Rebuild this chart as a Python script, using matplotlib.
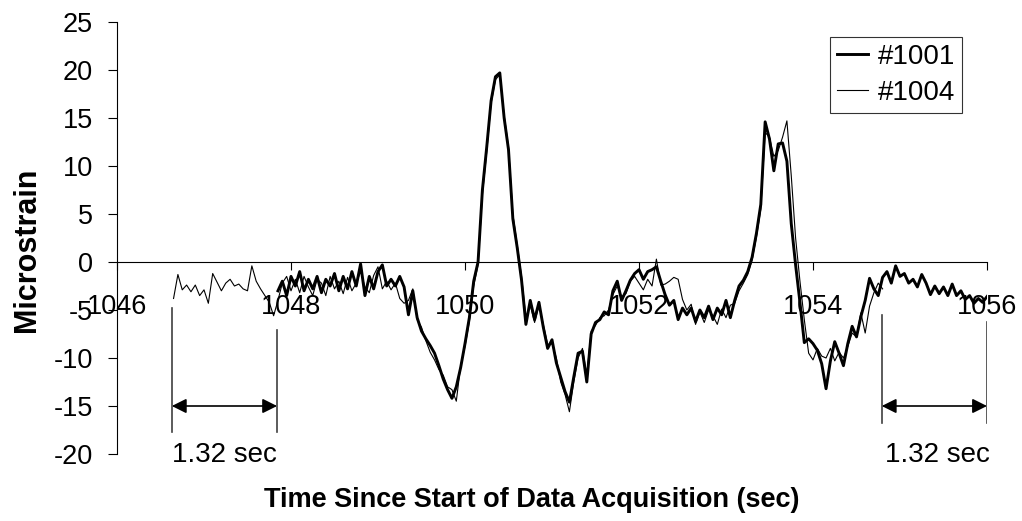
import numpy as np
import matplotlib
matplotlib.use("Agg")
import matplotlib.pyplot as plt

plt.rcParams['font.family'] = ['Liberation Sans', 'DejaVu Sans']
plt.rcParams['axes.unicode_minus'] = False

# sample spacing 0.05 s, start times
dt = 0.05
start_1001 = 1047.85
start_1004 = 1046.65

s1001 = [
    -3.0, -2.0, -3.5, -1.5, -2.5, -1.0, -3.0, -1.8, -2.8, -1.5,
    -3.2, -1.8, -2.5, -1.2, -3.0, -1.5, -2.8, -1.0, -2.5, -0.2,
    -3.5, -1.5, -2.8, -1.0, -0.3, -2.5, -1.8, -2.5, -1.5, -2.6,
    -5.5, -3.0, -5.8, -7.2, -8.0, -8.7, -9.5, -10.8, -12.2, -13.3,
    -14.2, -13.0, -11.0, -8.5, -5.8, -2.0, 0.0, 7.5, 12.0, 16.8,
    19.3, 19.7, 15.0, 11.7, 4.5, 1.5, -1.9, -6.5, -4.0, -6.0,
    -4.2, -6.8, -9.0, -8.1, -10.5, -12.0, -13.5, -14.6, -12.0, -9.5,
    -9.3, -12.5, -7.5, -6.3, -6.0, -5.2, -5.5, -3.0, -2.0, -4.0,
    -3.0, -1.9, -1.2, -0.8, -1.8, -1.0, -0.8, -0.5, -2.0, -3.4,
    -4.5, -4.0, -6.0, -4.8, -5.5, -4.8, -6.2, -5.0, -5.8, -4.6,
    -6.0, -4.8, -5.5, -4.0, -5.8, -4.0, -2.5, -1.9, -1.0, 0.5,
    3.0, 6.0, 14.6, 12.8, 9.5, 12.3, 12.4, 10.5, 4.0, -0.3,
    -4.2, -8.4, -8.0, -8.5, -9.2, -10.6, -13.2, -10.3, -8.3, -9.5,
    -10.8, -8.5, -6.7, -7.8, -5.7, -4.0, -1.7, -2.8, -3.5, -1.6,
    -1.0, -2.2, -0.4, -1.5, -1.2, -2.2, -1.8, -2.6, -1.3, -2.2,
    -3.4, -2.5, -3.3, -2.6, -3.5, -2.3, -3.5, -3.0, -3.9, -3.5,
    -4.3, -3.8, -4.2, -3.6,
]

s1004 = [
    -3.8, -1.3, -2.9, -2.4, -3.1, -2.4, -3.5, -2.9, -4.3, -1.2,
    -2.1, -3.0, -2.2, -1.8, -2.5, -2.3, -2.8, -3.0, -0.4, -2.0,
    -2.8, -3.5, -4.2, -5.6, -4.0, -2.2, -1.5, -3.0, -1.8, -3.2,
    -1.5, -2.6, -3.5, -1.8, -2.2, -3.5, -1.5, -2.8, -2.0, -3.3,
    -1.6, -3.0, -2.2, -1.0, -2.6, -3.2, -1.4, -0.5, -2.8, -2.0,
    -2.9, -2.2, -3.8, -4.3, -4.0, -2.8, -6.0, -6.8, -8.2, -9.4,
    -10.2, -11.2, -11.8, -13.0, -13.3, -14.5, -10.8, -8.8, -6.2, -2.5,
    -0.3, 7.0, 11.5, 16.5, 19.0, 19.5, 15.3, 12.0, 5.0, 1.8,
    -1.5, -5.8, -4.5, -6.3, -4.5, -6.5, -8.6, -8.5, -10.0, -12.5,
    -13.8, -15.6, -12.5, -10.0, -9.0, -11.8, -7.2, -6.6, -5.8, -5.6,
    -5.0, -3.4, -2.5, -3.6, -3.3, -2.0, -1.5, -2.2, -2.9, -1.8,
    -2.5, 0.3, -2.4, -2.3, -2.0, -1.6, -1.8, -3.9, -5.0, -4.4,
    -6.5, -5.2, -6.3, -5.0, -5.6, -6.5, -4.9, -5.8, -4.5, -4.3,
    -3.0, -2.2, -1.3, 0.2, 2.6, 5.5, 13.5, 13.0, 11.0, 11.6,
    13.0, 14.7, 9.0, 2.5, -2.0, -6.0, -9.5, -10.2, -9.0, -9.8,
    -10.0, -9.0, -10.3, -9.4, -10.0, -8.8, -7.4, -7.8, -5.3, -7.4,
    -4.6, -3.2, -2.2, -2.8,
]

t1001 = start_1001 + dt * np.arange(len(s1001))
t1004 = start_1004 + dt * np.arange(len(s1004))

xticks = [1046, 1048, 1050, 1052, 1054, 1056]
yticks = [-20, -15, -10, -5, 0, 5, 10, 15, 20, 25]

fig = plt.figure(figsize=(10.22, 5.21), dpi=100)
ax = fig.add_axes([117 / 1022, 67 / 521, 870 / 1022, 432 / 521])

ax.plot(t1001, s1001, color='black', lw=2.1, label='#1001', zorder=3)
ax.plot(t1004, s1004, color='black', lw=0.8, label='#1004', zorder=2)

ax.set_xlim(1046, 1056)
ax.set_ylim(-20, 25)
ax.set_xticks(xticks)
ax.set_yticks(yticks)
ax.tick_params(axis='y', direction='out', length=6.5, width=0.8, pad=11, labelsize=19.5)
ax.tick_params(axis='x', direction='out', length=6, width=0.8, pad=17, labelsize=19.5)

ax.spines['top'].set_visible(False)
ax.spines['right'].set_visible(False)
ax.spines['bottom'].set_position(('data', 0))
ax.spines['left'].set_linewidth(0.8)
ax.spines['bottom'].set_linewidth(0.8)

# time-offset brackets
gray = '#404040'
ax.plot([1046.63, 1046.63], [-4.8, -17.7], color=gray, lw=1.2)
ax.plot([1047.84, 1047.84], [-7.1, -17.7], color=gray, lw=1.2)
ax.plot([1054.79, 1054.79], [-5.5, -16.8], color=gray, lw=1.2)
ax.plot([1056.0, 1056.0], [-6.2, -16.8], color=gray, lw=1.2)
arrow = dict(arrowstyle='<|-|>', color='black', lw=1.2, mutation_scale=22,
             shrinkA=0, shrinkB=0)
ax.annotate('', xy=(1046.63, -15), xytext=(1047.84, -15), arrowprops=arrow)
ax.annotate('', xy=(1054.79, -15), xytext=(1056.0, -15), arrowprops=arrow)
ax.text(1047.23, -20.1, '1.32 sec', ha='center', va='center', fontsize=20, clip_on=False)
ax.text(1055.43, -20.1, '1.32 sec', ha='center', va='center', fontsize=20, clip_on=False)

fig.text(27 / 1022, 1 - 250 / 521, 'Microstrain', rotation=90, ha='center', va='center',
         fontsize=22, fontweight='bold')
fig.text(532 / 1022, 1 - 500 / 521, 'Time Since Start of Data Acquisition (sec)',
         ha='center', va='center', fontsize=19.5, fontweight='bold')

leg = fig.legend(loc='upper right', bbox_to_anchor=(962 / 1022, 1 - 37 / 521),
                 borderaxespad=0, fontsize=20, frameon=True, fancybox=False,
                 edgecolor='black', handlelength=1.1, handletextpad=0.35,
                 borderpad=0.25, labelspacing=0.35)
leg.get_frame().set_linewidth(0.8)

fig.savefig('out.png', dpi=100)
